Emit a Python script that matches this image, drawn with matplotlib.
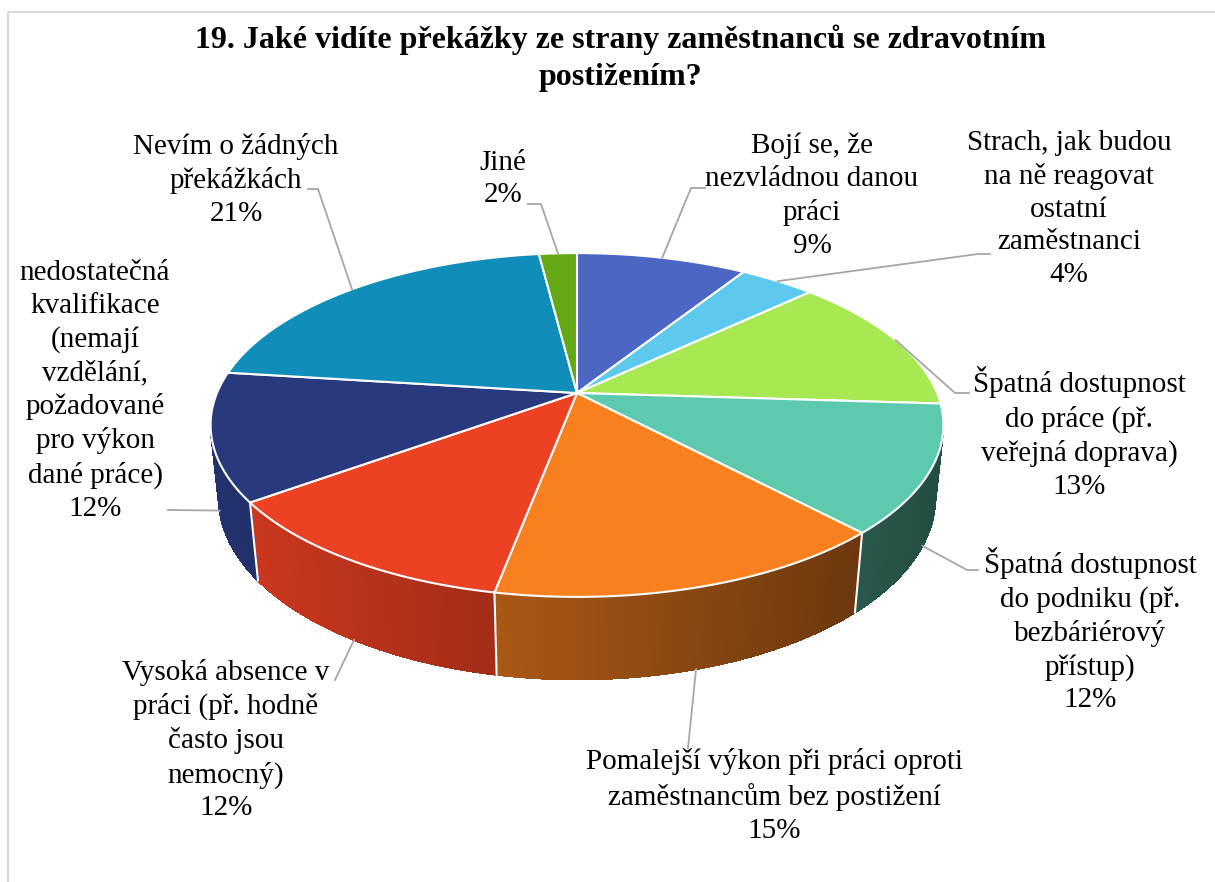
import numpy as np
import matplotlib
matplotlib.use('Agg')
import matplotlib.pyplot as plt
from matplotlib.patches import Polygon, Rectangle
from matplotlib.collections import PolyCollection
from matplotlib.colors import to_rgb

plt.rcParams['font.family'] = ['Liberation Serif', 'DejaVu Serif']

title = '19. Jaké vidíte překážky ze strany zaměstnanců se zdravotním\npostižením?'

labels = [
    'Bojí se, že\nnezvládnou danou\npráci',
    'Strach, jak budou\nna ně reagovat\nostatní\nzaměstnanci',
    'Špatná dostupnost\ndo práce (př.\nveřejná doprava)',
    'Špatná dostupnost\ndo podniku (př.\nbezbáriérový\npřístup)',
    'Pomalejší výkon při práci oproti\nzaměstnancům bez postižení',
    'Vysoká absence v\npráci (př. hodně\nčasto jsou\nnemocný)',
    'nedostatečná\nkvalifikace\n(nemají\nvzdělání,\npožadované\npro výkon\ndané práce)',
    'Nevím o žádných\npřekážkách',
    'Jiné',
]
values = [9, 4, 13, 12, 15, 12, 12, 21, 2]
colors = ['#4C66C4', '#5DC9EE', '#A8E852', '#5DCAAF', '#F8801F',
          '#EC4123', '#28397D', '#108EB9', '#64A816']

# label block centres and leader elbow points (pixel layout)
label_pos = [(812, 196), (1069, 209), (1079, 433), (1090, 630), (774, 796),
             (226, 740), (95, 391), (236, 180), (503, 179)]
leader_pts = [[(705, 188), (691, 188)], [(990, 254), (978, 254)],
              [(969, 393), (955, 393)], [(978, 570), (967, 570)],
              [(688, 748)], [(335, 680)], [(168, 510)],
              [(308, 189), (318, 189)], [(528, 204), (541, 204)]]

# 3D pie projection
CX, CY, K = 577, 393, 360
TILT = np.radians(27.45)
DIST = 4.77
THICK = 0.23


def project(theta, h=0.0):
    x = np.sin(theta)
    z = -np.cos(theta)
    w = h * np.sin(TILT) + z * np.cos(TILT)
    down = z * np.sin(TILT) - h * np.cos(TILT)
    s = DIST / (DIST - w)
    return CX + K * x * s, CY + K * down * s


def wall_visible(theta):
    return -np.cos(theta) > 1.0 / (DIST * np.cos(TILT))


fig = plt.figure(figsize=(12.15, 8.82), dpi=100)
ax = fig.add_axes([0, 0, 1, 1])
ax.set_xlim(0, 1215)
ax.set_ylim(882, 0)
ax.axis('off')

ax.add_patch(Rectangle((8, 12), 1240, 900, fill=False, edgecolor='#D9D9D9', lw=1.5))

fracs = np.array(values) / sum(values)
bounds = np.concatenate([[0], np.cumsum(fracs)]) * 2 * np.pi

# side walls
quads, qcols = [], []
for i in range(len(values)):
    th = np.linspace(bounds[i], bounds[i + 1], max(3, int(np.degrees(bounds[i + 1] - bounds[i]) * 2)))
    base = np.array(to_rgb(colors[i]))
    for a, b in zip(th[:-1], th[1:]):
        m = 0.5 * (a + b)
        if not wall_visible(m):
            continue
        xa, ya = project(a)
        xb, yb = project(b)
        xb2, yb2 = project(b, -THICK)
        xa2, ya2 = project(a, -THICK)
        quads.append([(xa, ya), (xb, yb), (xb2, yb2), (xa2, ya2)])
        f = np.clip(0.88 - 0.5 * ((xa + xb) / 2 - 212) / 731, 0.3, 0.95)
        qcols.append(base * f)
ax.add_collection(PolyCollection(quads, facecolors=qcols, edgecolors=qcols,
                                 linewidths=0.8, antialiased=False))

for bnd in bounds[1:-1]:
    if wall_visible(bnd):
        x1, y1 = project(bnd)
        x2, y2 = project(bnd, -THICK)
        ax.plot([x1, x2], [y1, y2], color='white', lw=1.5)

# top faces
for i in range(len(values)):
    th = np.linspace(bounds[i], bounds[i + 1], 200)
    xs, ys = project(th)
    pts = [(CX, CY)] + list(zip(xs, ys))
    ax.add_patch(Polygon(pts, closed=True, facecolor=colors[i], edgecolor='white',
                         lw=1.5, joinstyle='round'))

# labels with leader lines
for i in range(len(values)):
    mid = 0.5 * (bounds[i] + bounds[i + 1])
    h = -THICK if -np.cos(mid) > 0 else 0.0
    ax_, ay_ = project(mid, h)
    pts = leader_pts[i] + [(ax_, ay_)]
    ax.plot([p[0] for p in pts], [p[1] for p in pts], color='#A6A6A6', lw=1.3)
    txt = f'{labels[i]}\n{values[i]}%'
    ax.text(label_pos[i][0], label_pos[i][1], txt, ha='center', va='center',
            multialignment='center', fontsize=21, linespacing=1.34, color='black')

ax.text(620, 58, title, ha='center', va='center', fontsize=23, fontweight='bold',
        linespacing=1.36, color='black')

fig.savefig('out.png', dpi=100)
